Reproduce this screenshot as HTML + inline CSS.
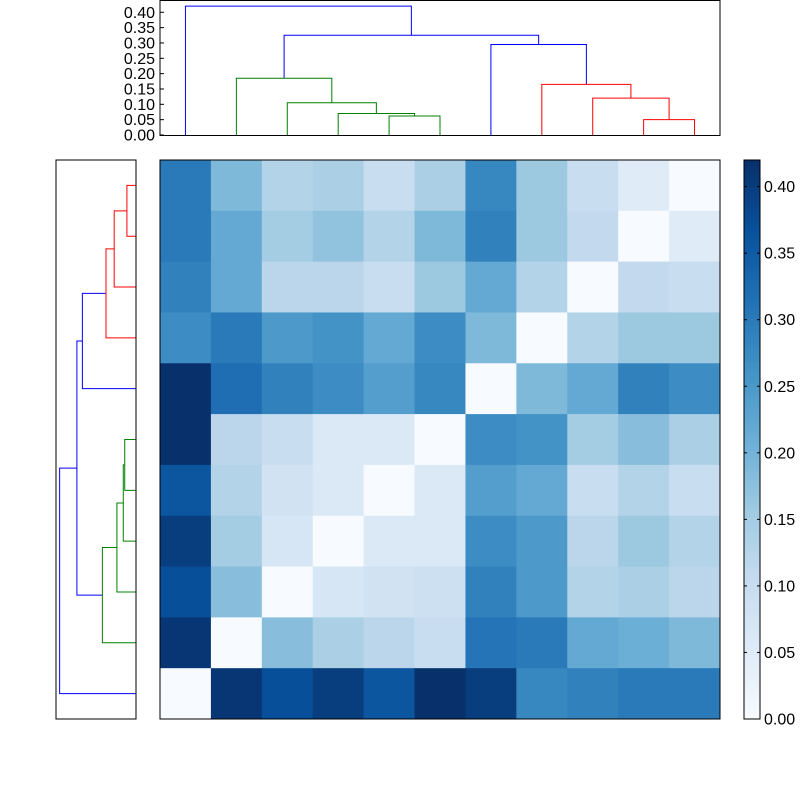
<!DOCTYPE html>
<html><head><meta charset="utf-8"><style>
body{margin:0;background:#fff;}
svg{display:block;font-family:"Liberation Sans",sans-serif;}
</style></head><body>
<svg id="chart" width="800" height="800" viewBox="0 0 800 800" xmlns="http://www.w3.org/2000/svg">
<rect width="800" height="800" fill="#fff"/>
<g id="heat"></g>
<g id="topden"></g>
<g id="leftden"></g>
<g id="cbar"></g>
</svg>
<script>
const matrix = [
[0.30,0.19,0.13,0.14,0.10,0.14,0.28,0.16,0.10,0.05,0.00],
[0.30,0.22,0.15,0.17,0.13,0.19,0.29,0.16,0.11,0.00,0.05],
[0.29,0.22,0.12,0.12,0.10,0.16,0.22,0.13,0.00,0.11,0.10],
[0.27,0.30,0.25,0.26,0.22,0.27,0.19,0.00,0.13,0.16,0.16],
[0.42,0.32,0.29,0.27,0.24,0.28,0.00,0.19,0.22,0.29,0.27],
[0.42,0.12,0.10,0.06,0.06,0.00,0.27,0.26,0.15,0.18,0.14],
[0.36,0.13,0.08,0.06,0.00,0.06,0.24,0.22,0.10,0.13,0.10],
[0.40,0.15,0.07,0.00,0.06,0.06,0.27,0.25,0.12,0.16,0.13],
[0.37,0.18,0.00,0.07,0.08,0.09,0.29,0.25,0.13,0.14,0.12],
[0.41,0.00,0.18,0.14,0.12,0.10,0.31,0.30,0.22,0.21,0.19],
[0.00,0.41,0.37,0.40,0.36,0.42,0.40,0.28,0.29,0.30,0.30]
];
// dendrogram links (positions in leaf units 0..10, heights in distance)
const linkA  = [0, 1.9375, 1, 2, 3, 4, 6, 7, 8, 9];
const linkAH = [0, 0.185, 0, 0, 0, 0, 0, 0, 0, 0];
const linkB  = [4.4375, 6.9375, 2.875, 3.75, 4.5, 5, 7.875, 8.75, 9.5, 10];
const linkBH = [0.325, 0.295, 0.105, 0.07, 0.062, 0, 0.165, 0.12, 0.05, 0];
const linkH  = [0.42, 0.325, 0.185, 0.105, 0.07, 0.062, 0.295, 0.165, 0.12, 0.05];
const linkColor = ["#00f","#00f","#008000","#008000","#008000","#008000","#00f","#f00","#f00","#f00"];
const cbarTicks = [0,0.05,0.10,0.15,0.20,0.25,0.30,0.35,0.40];
const denTicks = [0,0.05,0.10,0.15,0.20,0.25,0.30,0.35,0.40];
const vmax = 0.42;

const NS="http://www.w3.org/2000/svg";
function el(t,attrs,parent){const e=document.createElementNS(NS,t);for(const k in attrs)e.setAttribute(k,attrs[k]);parent.appendChild(e);return e;}
const HX0=160,HX1=720,HY0=160,HY1=719,n=11,cw=(HX1-HX0)/n,ch=(HY1-HY0)/n;
const stops=["#f7fbff","#deebf7","#c6dbef","#9ecae1","#6baed6","#4292c6","#2171b5","#08519c","#08306b"];
function hex(h){return [1,3,5].map(i=>parseInt(h.substr(i,2),16));}
function cmap(v){let t=Math.max(0,Math.min(1,v/vmax))*8;let i=Math.min(7,Math.floor(t));let f=t-i;const a=hex(stops[i]),b=hex(stops[i+1]);return "rgb("+a.map((x,k)=>Math.round(x+(b[k]-x)*f)).join(",")+")";}
const heat=document.getElementById('heat');
matrix.forEach((row,r)=>row.forEach((v,c)=>{
 const e=el('rect',{x:HX0+c*cw,y:HY0+r*ch,width:cw+0.5,height:ch+0.5,fill:cmap(v)},heat);
 
 
}));
const hf=el('rect',{x:HX0,y:HY0,width:HX1-HX0,height:HY1-HY0,fill:"none",stroke:"#000"},heat);



const td=document.getElementById('topden');
const TY0=0,TY1=135,Tmax=0.44;
function tx(p){return HX0+cw*(p+0.5);}
function ty(h){return TY1-(TY1-TY0)*h/Tmax;}
linkA.forEach((a,i)=>{
 const b=linkB[i],h=linkH[i];
 const e=el('polyline',{points:`${tx(a)},${ty(linkAH[i])} ${tx(a)},${ty(h)} ${tx(b)},${ty(h)} ${tx(b)},${ty(linkBH[i])}`,fill:"none",stroke:linkColor[i],"stroke-width":1},td);
 
 
});
const tf=el('rect',{x:HX0,y:TY0+0.5,width:HX1-HX0,height:TY1-TY0,fill:"none",stroke:"#000"},td);


denTicks.forEach(v=>{
 const y=ty(v);
 el('line',{x1:HX0,x2:HX0+4,y1:y,y2:y,stroke:"#000"},td);
 const t=el('text',{x:HX0-5,y:y+5.5,"text-anchor":"end","font-size":16},td);
 t.textContent=v.toFixed(2);
 
 
});

const ld=document.getElementById('leftden');
const LX0=56,LX1=136;
function ly(p){return HY1-ch*(p+0.5);}
function lx(h){return LX1-(LX1-LX0)*h/Tmax;}
linkA.forEach((a,i)=>{
 const b=linkB[i],h=linkH[i];
 const e=el('polyline',{points:`${lx(linkAH[i])},${ly(a)} ${lx(h)},${ly(a)} ${lx(h)},${ly(b)} ${lx(linkBH[i])},${ly(b)}`,fill:"none",stroke:linkColor[i],"stroke-width":1},ld);
 
 
});
const lf=el('rect',{x:LX0,y:HY0,width:LX1-LX0,height:HY1-HY0,fill:"none",stroke:"#000"},ld);



const cb=document.getElementById('cbar');
const CX0=744,CX1=760;
for(let i=0;i<200;i++){
 const v0=vmax*i/200;
 el('rect',{x:CX0,y:HY1-(HY1-HY0)*(i+1)/200,width:CX1-CX0,height:(HY1-HY0)/200+0.6,fill:cmap(v0+vmax/400)},cb);
}
const cf=el('rect',{x:CX0,y:HY0,width:CX1-CX0,height:HY1-HY0,fill:"none",stroke:"#000"},cb);


cbarTicks.forEach(v=>{
 const y=HY1-(HY1-HY0)*v/vmax;
 el('line',{x1:CX0,x2:CX0+3,y1:y,y2:y,stroke:"#000"},cb);
 el('line',{x1:CX1-3,x2:CX1,y1:y,y2:y,stroke:"#000"},cb);
 const t=el('text',{x:CX1+4,y:y+5.5,"font-size":16},cb);
 t.textContent=v.toFixed(2);
 
 
});
</script>
</body></html>
